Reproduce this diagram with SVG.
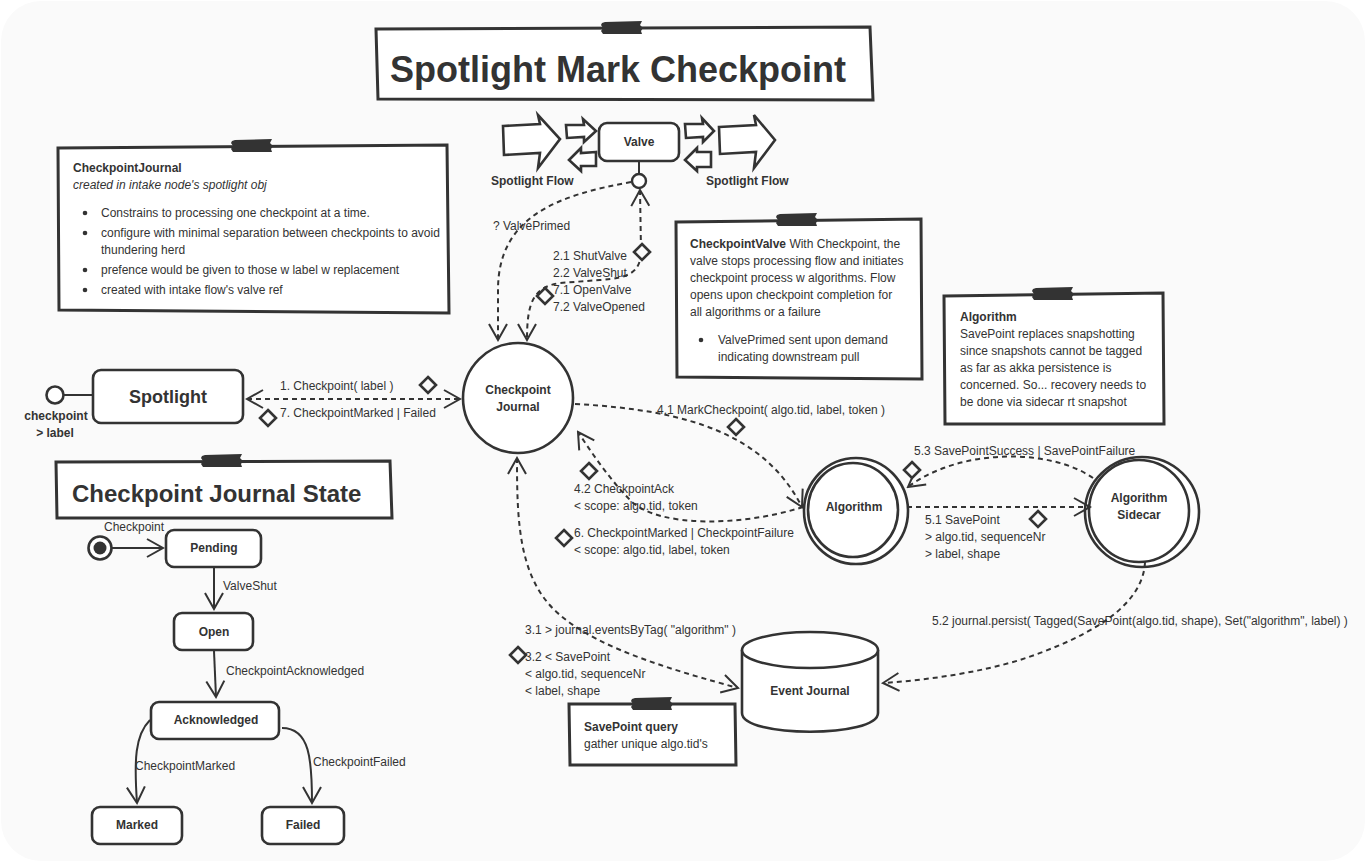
<svg xmlns="http://www.w3.org/2000/svg" width="1366" height="863" viewBox="0 0 1366 863">
<style>
.t{font-family:"Liberation Sans",Arial,sans-serif;font-size:12px;fill:#333}
.b{font-weight:bold}
.c{text-anchor:middle}
.node{fill:#fff;stroke:#333;stroke-width:2.6}
.note{fill:#fff;stroke:#333;stroke-width:3}
.dash{fill:none;stroke:#333;stroke-width:2;stroke-dasharray:5 4}
.solid{fill:none;stroke:#333;stroke-width:2}
.blk{fill:#fff;stroke:#333;stroke-width:2.6;stroke-linejoin:miter}
</style>
<defs>
<marker id="arr" viewBox="-20 -12 22 24" refX="0" refY="0" markerWidth="22" markerHeight="24" markerUnits="userSpaceOnUse" orient="auto-start-reverse">
<path d="M-16,-9 L0,0 L-16,9" fill="none" stroke="#333" stroke-width="2"/>
</marker>
<path id="tape" d="M-20,-5 L-17,-6 L20,-7 L18,-3 L21,0 L19,3 L20,6 L-19,6 L-21,3 L-19,0 L-21,-3 Z" fill="#333"/>
<path id="dia" d="M0,-8 L8,0 L0,8 L-8,0 Z" fill="#fafafa" stroke="#333" stroke-width="2.6"/>
</defs>
<rect x="0" y="0" width="1366" height="863" fill="#fff"/>
<rect x="1" y="1" width="1364" height="860" rx="40" fill="#fafafa"/>

<g id="title">
<polygon class="note" points="376,29 870,27 873,100 378,99"/>
<use href="#tape" x="622" y="28"/>
<text class="t b" x="390" y="82" style="font-size:36px">Spotlight Mark Checkpoint</text>
</g>

<g id="valve">
<polygon class="blk" points="503,126 540,124 538,115 560,139 538,168 540,153 504,155"/>
<polygon class="blk" points="566,125 584,125 583,119 596,131 584,142 584,137 567,138"/>
<polygon class="blk" points="596,152 581,153 581,148 569,160 581,171 581,166 596,166"/>
<rect class="node" x="599" y="123" width="80" height="38" rx="8"/>
<text class="t b c" x="639" y="146">Valve</text>
<polygon class="blk" points="685,124 703,124 702,118 714,131 703,142 703,137 686,138"/>
<polygon class="blk" points="711,152 697,152 697,148 685,160 697,171 697,167 711,167"/>
<polygon class="blk" points="719,127 756,125 754,115 775,140 754,168 756,152 720,154"/>
<text class="t b" x="491" y="185">Spotlight Flow</text>
<text class="t b" x="706" y="185">Spotlight Flow</text>
<line class="solid" x1="639" y1="161" x2="639" y2="174"/>
<circle cx="639" cy="181" r="7" fill="#fff" stroke="#333" stroke-width="2.4"/>
</g>

<g id="note-checkpointjournal">
<polygon class="note" points="58,148 447,145 449,313 59,310"/>
<use href="#tape" x="252" y="146"/>
<text class="t b" x="73" y="172">CheckpointJournal</text>
<text class="t" x="73" y="189" font-style="italic">created in intake node's spotlight obj</text>
<circle cx="85" cy="213" r="2.3" fill="#333"/>
<text class="t" x="101" y="217">Constrains to processing one checkpoint at a time.</text>
<circle cx="85" cy="233" r="2.3" fill="#333"/>
<text class="t" x="101" y="237">configure with minimal separation between checkpoints to avoid</text>
<text class="t" x="101" y="254">thundering herd</text>
<circle cx="85" cy="270" r="2.3" fill="#333"/>
<text class="t" x="101" y="274">prefence would be given to those w label w replacement</text>
<circle cx="85" cy="290" r="2.3" fill="#333"/>
<text class="t" x="101" y="294">created with intake flow's valve ref</text>
</g>

<g id="spotlight">
<circle cx="55" cy="395" r="8.5" fill="#fff" stroke="#333" stroke-width="2.6"/>
<line class="solid" x1="64" y1="395" x2="93" y2="395"/>
<rect class="node" x="93" y="370" width="150" height="53" rx="8"/>
<text class="t b c" x="168" y="403" style="font-size:18px">Spotlight</text>
<text class="t b c" x="56" y="420">checkpoint</text>
<text class="t b c" x="55" y="437">&gt; label</text>
</g>

<g id="checkpoint-journal">
<circle class="node" cx="518" cy="398" r="55"/>
<text class="t b c" x="518" y="394">Checkpoint</text>
<text class="t b c" x="518" y="411">Journal</text>
</g>

<g id="note-checkpointvalve">
<polygon class="note" points="676,222 921,219 922,379 677,377"/>
<use href="#tape" x="797" y="220"/>
<text class="t" x="690" y="248"><tspan class="b">CheckpointValve</tspan> With Checkpoint, the</text>
<text class="t" x="690" y="265">valve stops processing flow and initiates</text>
<text class="t" x="690" y="282">checkpoint process w algorithms. Flow</text>
<text class="t" x="690" y="299">opens upon checkpoint completion for</text>
<text class="t" x="690" y="316">all algorithms or a failure</text>
<circle cx="701" cy="340" r="2.3" fill="#333"/>
<text class="t" x="718" y="344">ValvePrimed sent upon demand</text>
<text class="t" x="718" y="361">indicating downstream pull</text>
</g>

<g id="note-algorithm">
<polygon class="note" points="944,296 1163,293 1164,424 945,424"/>
<use href="#tape" x="1053" y="294"/>
<text class="t b" x="960" y="321">Algorithm</text>
<text class="t" x="960" y="338">SavePoint replaces snapshotting</text>
<text class="t" x="960" y="355">since snapshots cannot be tagged</text>
<text class="t" x="960" y="372">as far as akka persistence is</text>
<text class="t" x="960" y="389">concerned. So... recovery needs to</text>
<text class="t" x="960" y="406">be done via sidecar rt snapshot</text>
</g>

<g id="algorithm">
<ellipse class="node" cx="856" cy="511" rx="52" ry="53"/>
<ellipse cx="853" cy="510" rx="45" ry="47" fill="none" stroke="#333" stroke-width="2.6"/>
<text class="t b c" x="854" y="511">Algorithm</text>
</g>

<g id="algorithm-sidecar">
<ellipse class="node" cx="1142" cy="512" rx="57" ry="55"/>
<ellipse cx="1139" cy="511" rx="50" ry="51" fill="none" stroke="#333" stroke-width="2.6"/>
<text class="t b c" x="1139" y="502">Algorithm</text>
<text class="t b c" x="1139" y="519">Sidecar</text>
</g>

<g id="event-journal">
<path class="node" d="M742,650 L742,713 C742,738 878,738 878,713 L878,650"/>
<ellipse class="node" cx="810" cy="650" rx="68" ry="18"/>
<text class="t b c" x="810" y="695">Event Journal</text>
</g>

<g id="note-savepoint-query">
<polygon class="note" points="569,704 735,704 736,765 570,765"/>
<use href="#tape" x="652" y="704"/>
<text class="t b" x="584" y="731">SavePoint query</text>
<text class="t" x="584" y="748">gather unique algo.tid's</text>
</g>

<g id="state-title">
<polygon class="note" points="56,462 390,461 392,518 57,518"/>
<use href="#tape" x="222" y="461"/>
<text class="t b" x="72" y="502" style="font-size:24px">Checkpoint Journal State</text>
</g>

<g id="state-initial">
<circle cx="100" cy="548" r="11.5" fill="#fff" stroke="#333" stroke-width="2.6"/>
<circle cx="100" cy="548" r="6.5" fill="#333"/>
</g>
<g id="state-pending">
<rect class="node" x="166" y="530" width="95" height="37" rx="8"/>
<text class="t b c" x="214" y="552">Pending</text>
</g>
<g id="state-open">
<rect class="node" x="174" y="613" width="79" height="37" rx="8"/>
<text class="t b c" x="214" y="636">Open</text>
</g>
<g id="state-acknowledged">
<rect class="node" x="151" y="702" width="128" height="37" rx="8"/>
<text class="t b c" x="216" y="724">Acknowledged</text>
</g>
<g id="state-marked">
<rect class="node" x="92" y="807" width="90" height="37" rx="8"/>
<text class="t b c" x="137" y="829">Marked</text>
</g>
<g id="state-failed">
<rect class="node" x="262" y="807" width="82" height="37" rx="8"/>
<text class="t b c" x="303" y="829">Failed</text>
</g>

<g id="connectors">
<path class="dash" d="M247,399 L460,399" marker-start="url(#arr)" marker-end="url(#arr)"/>
<path class="dash" d="M631,182 C560,195 498,215 498,290 L498,340" marker-end="url(#arr)"/>
<path class="dash" d="M640,190 L641,250 C641,272 630,278 600,280 L560,283 C532,287 527,305 527,340" marker-start="url(#arr)" marker-end="url(#arr)"/>
<path class="dash" d="M575,404 C690,410 765,435 802,507" marker-end="url(#arr)"/>
<path class="dash" d="M803,507 C740,527 660,527 632,502 C612,482 595,458 578,432" marker-end="url(#arr)"/>
<path class="dash" d="M517,458 C517,520 518,580 560,615 C600,650 680,672 738,688" marker-start="url(#arr)" marker-end="url(#arr)"/>
<path class="dash" d="M907,507 L1090,507" marker-end="url(#arr)"/>
<path class="dash" d="M1093,478 C1050,448 960,448 908,487" marker-end="url(#arr)"/>
<path class="dash" d="M1145,562 C1143,610 1080,640 1020,660 C980,672 930,680 883,683" marker-end="url(#arr)"/>
<path class="solid" d="M112,548 L163,548" marker-end="url(#arr)"/>
<path class="solid" d="M214,568 L214,609" marker-end="url(#arr)"/>
<path class="solid" d="M214,651 L216,697" marker-end="url(#arr)"/>
<path class="solid" d="M150,720 C135,735 134,760 137,803" marker-end="url(#arr)"/>
<path class="solid" d="M282,728 C310,728 312,760 312,803" marker-end="url(#arr)"/>

<use href="#dia" x="428" y="385"/>
<use href="#dia" x="268" y="418"/>
<use href="#dia" x="642" y="252"/>
<use href="#dia" x="545" y="296"/>
<use href="#dia" x="736" y="427"/>
<use href="#dia" x="589" y="471"/>
<use href="#dia" x="564" y="538"/>
<use href="#dia" x="1038" y="519"/>
<use href="#dia" x="912" y="470"/>
<use href="#dia" x="518" y="655"/>

<text class="t" x="280" y="390">1. Checkpoint( label )</text>
<text class="t" x="280" y="417">7. CheckpointMarked | Failed</text>
<text class="t" x="493" y="230">? ValvePrimed</text>
<text class="t" x="553" y="260">2.1 ShutValve</text>
<text class="t" x="553" y="277">2.2 ValveShut</text>
<text class="t" x="553" y="294">7.1 OpenValve</text>
<text class="t" x="553" y="311">7.2 ValveOpened</text>
<text class="t" x="657" y="414">4.1 MarkCheckpoint( algo.tid, label, token )</text>
<text class="t" x="574" y="493">4.2 CheckpointAck</text>
<text class="t" x="574" y="510">&lt; scope: algo.tid, token</text>
<text class="t" x="574" y="537">6. CheckpointMarked | CheckpointFailure</text>
<text class="t" x="574" y="554">&lt; scope: algo.tid, label, token</text>
<text class="t" x="914" y="455">5.3 SavePointSuccess | SavePointFailure</text>
<text class="t" x="925" y="524">5.1 SavePoint</text>
<text class="t" x="925" y="541">&gt; algo.tid, sequenceNr</text>
<text class="t" x="925" y="558">&gt; label, shape</text>
<text class="t" x="932" y="625">5.2 journal.persist( Tagged(SavePoint(algo.tid, shape), Set("algorithm", label) )</text>
<text class="t" x="525" y="634">3.1 &gt; journal.eventsByTag( "algorithm" )</text>
<text class="t" x="525" y="661">3.2 &lt; SavePoint</text>
<text class="t" x="525" y="678">&lt; algo.tid, sequenceNr</text>
<text class="t" x="525" y="695">&lt; label, shape</text>
<text class="t" x="104" y="531">Checkpoint</text>
<text class="t" x="223" y="590">ValveShut</text>
<text class="t" x="226" y="675">CheckpointAcknowledged</text>
<text class="t" x="135" y="770">CheckpointMarked</text>
<text class="t" x="313" y="766">CheckpointFailed</text>
</g>
</svg>
